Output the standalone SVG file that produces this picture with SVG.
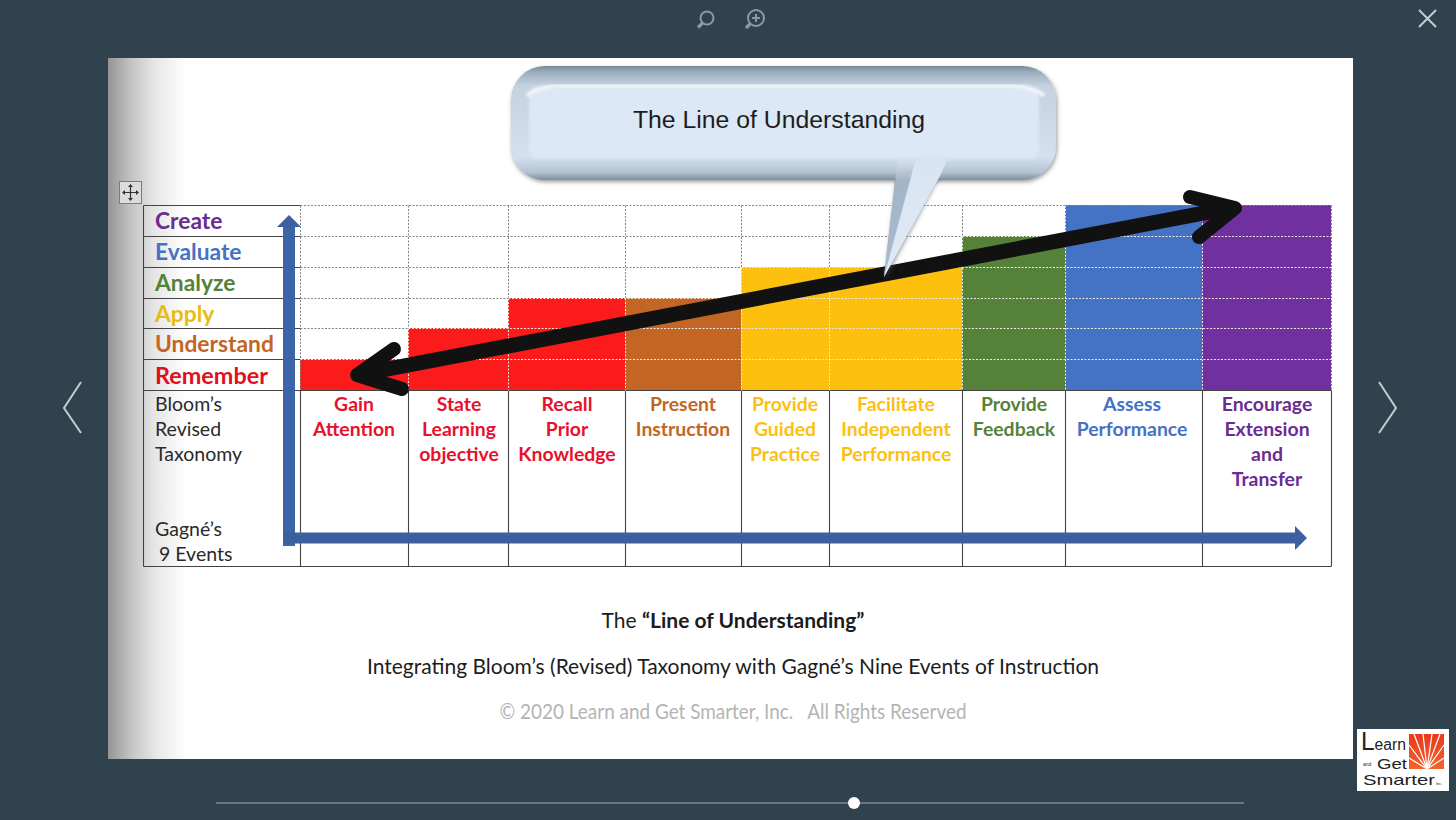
<svg xmlns="http://www.w3.org/2000/svg" width="1456" height="820" viewBox="0 0 1456 820">
<defs>
<linearGradient id="edge" x1="0" x2="1" y1="0" y2="0"><stop offset="0" stop-color="#949494"/><stop offset="0.3" stop-color="#c4c4c4"/><stop offset="0.6" stop-color="#e6e6e6"/><stop offset="1" stop-color="#fff"/></linearGradient>
<linearGradient id="bub" x1="0" x2="0" y1="0" y2="1"><stop offset="0" stop-color="#75899c"/><stop offset="0.06" stop-color="#9fb0c0"/><stop offset="0.17" stop-color="#c4d1de"/><stop offset="0.8" stop-color="#d4e0ee"/><stop offset="0.93" stop-color="#b4c4d4"/><stop offset="1" stop-color="#7d8e9f"/></linearGradient>
<linearGradient id="tailL" gradientUnits="userSpaceOnUse" x1="0" x2="0" y1="160" y2="277"><stop offset="0" stop-color="#d4e0ee"/><stop offset="0.18" stop-color="#a3b4c6"/><stop offset="1" stop-color="#a9bccf"/></linearGradient>
<linearGradient id="tailR" gradientUnits="userSpaceOnUse" x1="0" x2="0" y1="160" y2="277"><stop offset="0" stop-color="#d8e4f1"/><stop offset="1" stop-color="#dfeaf6"/></linearGradient>
<filter id="sh" x="-5%" y="-10%" width="110%" height="125%"><feDropShadow dx="1" dy="2" stdDeviation="2" flood-color="#555" flood-opacity="0.6"/></filter>
<filter id="soft" x="-5%" y="-20%" width="110%" height="140%"><feGaussianBlur stdDeviation="1.5"/></filter>
<linearGradient id="sun" x1="0" x2="0" y1="0" y2="1"><stop offset="0" stop-color="#e8391d"/><stop offset="1" stop-color="#f2642a"/></linearGradient>
<marker id="bluehead" viewBox="0 0 12 24" refX="0" refY="12" markerUnits="userSpaceOnUse" markerWidth="12" markerHeight="24" orient="auto"><path d="M0 0L12 12L0 24Z" fill="#3c60a2"/></marker>
</defs>
<style>
text{font-family:"Lato","Liberation Sans",sans-serif}
.lvl{font-size:22.8px;font-weight:700}
.ev{font-size:19.4px;font-weight:700;text-anchor:middle}
.plain{font-size:19.5px;fill:#2a2a2a}
.cap{font-size:21px;fill:#1c1c1c;text-anchor:middle}
.solid{stroke:#444;stroke-width:1.1;fill:none}
.dash{stroke:#858585;stroke-width:1;stroke-dasharray:2 1.5;fill:none}
.dashw{stroke:#efe9e2;stroke-width:1;stroke-dasharray:2 1.5;fill:none}
.ui{stroke:#c5ccd1;stroke-width:2;fill:none}
.zoomi{stroke:#8d9aa3;stroke-width:2;fill:none}
.blk{stroke:#111;stroke-width:14;stroke-linecap:round;stroke-linejoin:round;fill:none}
.logo{fill:#222;font-family:"Liberation Sans",sans-serif}
</style>
<rect width="1456" height="820" fill="#2f424e"/>
<g id="page">
<rect x="108" y="58" width="1245" height="701" fill="#fff"/>
<rect x="108" y="58" width="78" height="701" fill="url(#edge)"/>
</g>
<g id="ui-zoom-out"><circle cx="707" cy="18" r="6.500" class="zoomi"/><path d="M702.500 23L698 27.500" class="zoomi" style="stroke-width:3.200"/></g>
<g id="ui-zoom-in"><circle cx="756" cy="18" r="8" class="zoomi"/><path d="M752 18H760M756 14V22" class="zoomi"/><path d="M750 24L746 28" class="zoomi" style="stroke-width:3.200"/></g>
<g id="ui-close"><path d="M1419 10L1436 27M1436 10L1419 27" class="ui"/></g>
<g id="ui-prev"><path d="M81 382L64 408L81 433" class="ui"/></g>
<g id="ui-next"><path d="M1379 382L1396 408L1379 433" class="ui"/></g>
<g id="ui-slider"><path d="M216 803H1244" stroke="#7d8a92" stroke-width="1.500"/><circle cx="854" cy="803" r="6" fill="#fff"/></g>
<g id="table-move"><rect x="119.500" y="181.500" width="22" height="22" fill="#dcdcdc" stroke="#7c7c7c"/><path d="M130.500 185.500V199.500M123.500 192.500H137.500" stroke="#333" stroke-width="1.200"/><path d="M130.500 184L128 187H133ZM130.500 201L128 198H133ZM122 192.500L125 190V195ZM139 192.500L136 190V195Z" fill="#333"/></g>
<g id="fills">
<rect x="300" y="359" width="108" height="31" fill="#fb1b1b"/>
<rect x="408" y="328" width="100" height="62" fill="#fb1b1b"/>
<rect x="508" y="298" width="117" height="92" fill="#fb1b1b"/>
<rect x="625" y="298" width="116" height="92" fill="#c36524"/>
<rect x="741" y="267" width="221" height="123" fill="#fec00f"/>
<rect x="962" y="236" width="103" height="154" fill="#558139"/>
<rect x="1065" y="205" width="137" height="185" fill="#4472c4"/>
<rect x="1202" y="205" width="129" height="185" fill="#7030a0"/>
</g>
<g id="grid" transform="translate(0.500 0.500)">
<path class="solid" d="M143 205H300M143 236H300M143 267H300M143 298H300M143 328H300M143 359H300M143 390H1331M143 566H1331M143 205V566M300 390V566M408 390V566M508 390V566M625 390V566M741 390V566M829 390V566M962 390V566M1065 390V566M1202 390V566M1331 390V566"/>
<path class="dash" d="M300 205H1331M300 236H962M300 267H741M300 298H508M300 328H408M300 205V390M408 205V328M508 205V298M625 205V298M741 205V267M829 205V267M962 205V236M1065 205V236M1331 205V390"/>
<path class="dashw" d="M962 236H1331M741 267H1331M508 298H1331M408 328H1331M300 359H1331M408 328V390M508 298V390M625 298V390M741 267V390M829 267V390M962 236V390M1065 205V390M1202 205V390"/>
</g>
<g id="levels">
<text class="lvl" x="155" y="228.500" fill="#6a2c91">Create</text>
<text class="lvl" x="155" y="259.500" fill="#4472c4">Evaluate</text>
<text class="lvl" x="155" y="290.500" fill="#558139">Analyze</text>
<text class="lvl" x="155" y="321.500" fill="#e8bc12">Apply</text>
<text class="lvl" x="155" y="351.500" fill="#c36524">Understand</text>
<text class="lvl" x="155" y="383.500" fill="#e01020" textLength="113" lengthAdjust="spacingAndGlyphs">Remember</text>
</g>
<g id="side-labels">
<text class="plain" x="155" y="411">Bloom’s</text>
<text class="plain" x="155" y="436">Revised</text>
<text class="plain" x="155" y="461">Taxonomy</text>
<text class="plain" x="155" y="536">Gagné’s</text>
<text class="plain" x="159" y="561">9 Events</text>
</g>
<g id="events">
<g id="event-1" fill="#e8112d"><text class="ev" x="354" y="411">Gain</text><text class="ev" x="354" y="436">Attention</text></g>
<g id="event-2" fill="#e8112d"><text class="ev" x="459" y="411">State</text><text class="ev" x="459" y="436">Learning</text><text class="ev" x="459" y="461">objective</text></g>
<g id="event-3" fill="#e8112d"><text class="ev" x="567" y="411">Recall</text><text class="ev" x="567" y="436">Prior</text><text class="ev" x="567" y="461">Knowledge</text></g>
<g id="event-4" fill="#c36524"><text class="ev" x="683" y="411">Present</text><text class="ev" x="683" y="436">Instruction</text></g>
<g id="event-5" fill="#fcc010"><text class="ev" x="785" y="411">Provide</text><text class="ev" x="785" y="436">Guided</text><text class="ev" x="785" y="461">Practice</text></g>
<g id="event-6" fill="#fcc010"><text class="ev" x="896" y="411">Facilitate</text><text class="ev" x="896" y="436">Independent</text><text class="ev" x="896" y="461">Performance</text></g>
<g id="event-7" fill="#558139"><text class="ev" x="1014" y="411">Provide</text><text class="ev" x="1014" y="436">Feedback</text></g>
<g id="event-8" fill="#4472c4"><text class="ev" x="1132" y="411">Assess</text><text class="ev" x="1132" y="436">Performance</text></g>
<g id="event-9" fill="#6a2c91"><text class="ev" x="1267" y="411">Encourage</text><text class="ev" x="1267" y="436">Extension</text><text class="ev" x="1267" y="461">and</text><text class="ev" x="1267" y="486">Transfer</text></g>
</g>
<g id="connectors">
<path d="M289 546V227" stroke="#3c64a8" stroke-width="12" fill="none" marker-end="url(#bluehead)"/>
<path d="M284 538H1295" stroke="#3c5f9f" stroke-width="11" fill="none" marker-end="url(#bluehead)"/>
<path class="blk" style="stroke-width:15;stroke-linecap:butt" d="M372 372L1225 209"/>
<path class="blk" d="M1190 197L1235 208L1199 237"/>
<path class="blk" d="M394 349L357 375L402 389"/>
</g>
<g id="callout">
<path d="M884 277L896 172H940Z" fill="#9aa9b8" filter="url(#sh)"/>
<rect x="511" y="66" width="545" height="114" rx="34" fill="url(#bub)" filter="url(#sh)"/>
<rect x="529" y="88" width="510" height="70" rx="8" fill="#dce8f6" filter="url(#soft)"/>
<path d="M898 158L884 277L916 158Z" fill="url(#tailL)"/>
<path d="M916 158L884 277L940 176L948 158Z" fill="url(#tailR)"/>
<path d="M527 96Q535 87 560 86H1010Q1035 87 1044 96" stroke="#f2f7fc" stroke-width="4" fill="none" filter="url(#soft)"/>
<path d="M529 96V150" stroke="#f2f7fc" stroke-width="3" fill="none" filter="url(#soft)"/>
<text x="779" y="128" font-size="24.800" fill="#1d1d1d" text-anchor="middle" style="font-family:'Liberation Sans',sans-serif">The Line of Understanding</text>
</g>
<g id="caption">
<text class="cap" x="733" y="628">The <tspan font-weight="700">“Line of Understanding”</tspan></text>
<text class="cap" x="733" y="674">Integrating Bloom’s (Revised) Taxonomy with Gagné’s Nine Events of Instruction</text>
<text class="cap" x="733" y="719" textLength="467" lengthAdjust="spacingAndGlyphs" style="fill:#b4b4b4;white-space:pre">© 2020 Learn and Get Smarter, Inc.   All Rights Reserved</text>
</g>
<g id="logo">
<rect x="1357" y="729" width="92" height="62" fill="#fff"/>
<rect x="1409" y="734" width="35" height="35" fill="url(#sun)"/>
<path d="M1427 769L1414 734M1427 769L1423 734M1427 769L1432 734M1427 769L1440 734M1427 769L1444 745M1427 769L1444 758M1427 769L1409 745M1427 769L1409 758" stroke="#fff" stroke-width="1.200"/>
<text class="logo" x="1361" y="750" font-size="16" textLength="45" lengthAdjust="spacingAndGlyphs"><tspan font-size="25">L</tspan>earn</text>
<text class="logo" x="1363" y="766" font-size="5">and</text>
<text class="logo" x="1377" y="769" font-size="14" textLength="30" lengthAdjust="spacingAndGlyphs">Get</text>
<text class="logo" x="1363" y="785" font-size="14.500" textLength="72" lengthAdjust="spacingAndGlyphs">Smarter</text>
<text class="logo" x="1436" y="785" font-size="4">Inc.</text>
</g>
</svg>
